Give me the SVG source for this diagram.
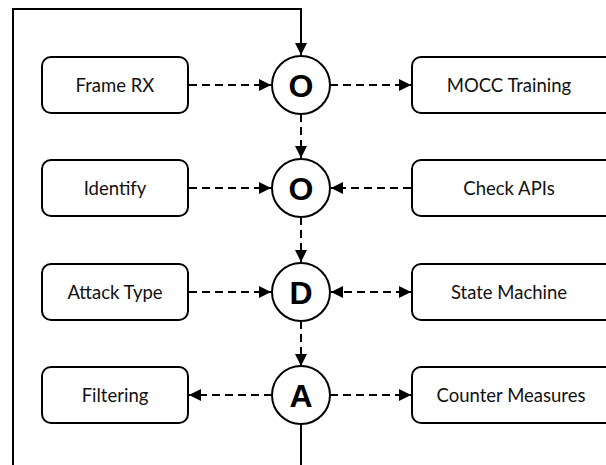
<svg xmlns="http://www.w3.org/2000/svg" width="606" height="465" viewBox="0 0 606 465">
<style>
.box{fill:#fff;stroke:#000;stroke-width:2}
.circ{fill:#fff;stroke:#000;stroke-width:2}
.lbl{font-family:Lato,"Open Sans","Liberation Sans",sans-serif;font-size:18.5px;fill:#111;text-anchor:middle;dominant-baseline:central}
.big{font-family:"Liberation Sans",Arial,sans-serif;font-weight:bold;font-size:32px;fill:#000;text-anchor:middle;dominant-baseline:central}
.dash{fill:none;stroke:#000;stroke-width:2;stroke-dasharray:8 5}
.solid{fill:none;stroke:#000;stroke-width:2}
</style>
<defs>
<marker id="ahs" viewBox="0 0 10 10" refX="10" refY="5" markerWidth="12" markerHeight="12" markerUnits="userSpaceOnUse" orient="auto-start-reverse">
<path d="M0,0 L10,5 L0,10 z" fill="#000"/>
</marker>
</defs>
<g id="connectors">
<path class="solid" d="M13,465 V9 H301 V55" marker-end="url(#ahs)"/>
<path class="solid" d="M301,424 V465"/>
<path class="dash" d="M189,85 H271" marker-end="url(#ahs)"/>
<path class="dash" d="M330,85 H411" marker-end="url(#ahs)"/>
<path class="dash" d="M301,114 V158" marker-end="url(#ahs)"/>
<path class="dash" d="M189,188 H271" marker-end="url(#ahs)"/>
<path class="dash" d="M411,188 H331" marker-end="url(#ahs)"/>
<path class="dash" d="M301,217 V262" marker-end="url(#ahs)"/>
<path class="dash" d="M189,292 H271" marker-end="url(#ahs)"/>
<path class="dash" d="M331,292 H411" marker-start="url(#ahs)" marker-end="url(#ahs)"/>
<path class="dash" d="M301,321 V366" marker-end="url(#ahs)"/>
<path class="dash" d="M272,395 H189" marker-end="url(#ahs)"/>
<path class="dash" d="M330,395 H411" marker-end="url(#ahs)"/>
</g>
<g id="frame-rx"><rect class="box" x="42" y="57" width="146" height="56" rx="9"/><text class="lbl" x="115" y="85">Frame RX</text></g>
<g id="identify"><rect class="box" x="42" y="160" width="146" height="56" rx="9"/><text class="lbl" x="115" y="188">Identify</text></g>
<g id="attack-type"><rect class="box" x="42" y="264" width="146" height="56" rx="9"/><text class="lbl" x="115" y="292">Attack Type</text></g>
<g id="filtering"><rect class="box" x="42" y="367" width="146" height="56" rx="9"/><text class="lbl" x="115" y="395">Filtering</text></g>
<g id="mocc-training"><rect class="box" x="412" y="57" width="210" height="56" rx="9"/><text class="lbl" x="509" y="85">MOCC Training</text></g>
<g id="check-apis"><rect class="box" x="412" y="160" width="210" height="56" rx="9"/><text class="lbl" x="509" y="188">Check APIs</text></g>
<g id="state-machine"><rect class="box" x="412" y="264" width="210" height="56" rx="9"/><text class="lbl" x="509" y="292">State Machine</text></g>
<g id="counter-measures"><rect class="box" x="412" y="367" width="210" height="56" rx="9"/><text class="lbl" x="511" y="395">Counter Measures</text></g>
<g id="observe"><circle class="circ" cx="301" cy="85" r="29"/><text class="big" x="301" y="86">O</text></g>
<g id="orient"><circle class="circ" cx="301" cy="188" r="29"/><text class="big" x="301" y="189">O</text></g>
<g id="decide"><circle class="circ" cx="301" cy="292" r="29"/><text class="big" x="301" y="293">D</text></g>
<g id="act"><circle class="circ" cx="301" cy="395" r="29"/><text class="big" x="301" y="396">A</text></g>
</svg>
